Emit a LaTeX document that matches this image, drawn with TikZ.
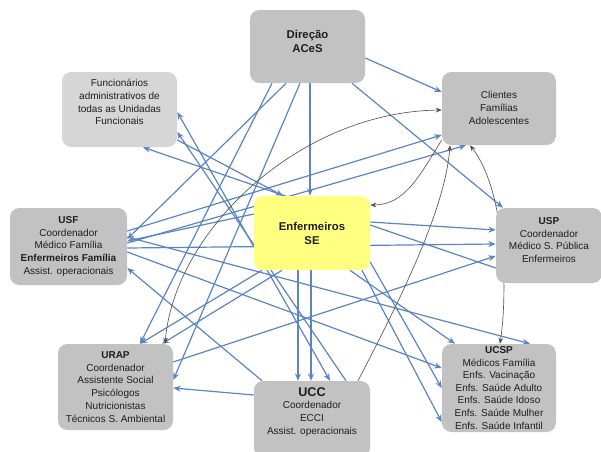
\documentclass[tikz,border=0pt]{standalone}
\usepackage{fontspec}
\setmainfont{Liberation Sans}
\usetikzlibrary{arrows.meta,calc}
\definecolor{linkblue}{HTML}{5B84C4}
\definecolor{boxgray}{HTML}{C2C2C2}
\definecolor{boxlight}{HTML}{D6D6D6}
\definecolor{hubyellow}{HTML}{FFFF80}
\definecolor{inkgray}{HTML}{1E1E1E}
\pgfdeclarelayer{back}
\pgfsetlayers{back,main}
\tikzset{
  unitbox/.style 2 args={rounded corners=7pt, fill=boxgray, draw=none,
    minimum width=#1*0.75pt, minimum height=#2*0.75pt, inner sep=0pt},
  caption/.style={align=center, text=inkgray, font=\fontsize{7.5}{9.6}\selectfont, inner sep=0pt},
  link/.style={draw=linkblue, line width=0.9pt, -{Stealth[length=5.5pt,width=4.5pt]}},
  twoway/.style={link, {Stealth[length=5.5pt,width=4.5pt]}-{Stealth[length=5.5pt,width=4.5pt]}},
  fine/.style={draw=black!65, line width=0.5pt, -{Stealth[length=4.5pt,width=3.6pt,fill=black]}},
  finetwo/.style={fine, {Stealth[length=4.5pt,width=3.6pt,fill=black]}-{Stealth[length=4.5pt,width=3.6pt,fill=black]}}
}
\begin{document}
\begin{tikzpicture}[x=0.75pt,y=-0.75pt]
\useasboundingbox (0,0) rectangle (601,451);
\clip (0,0) rectangle (601,451);

% boxes
\node[unitbox={115}{73}] (dir) at (307.5,46.5) {};
\node[unitbox={115}{75}, fill=boxlight] (fun) at (119.5,109.5) {};
\node[unitbox={114}{73}] (cli) at (499,108.5) {};
\node[unitbox={117}{77}, caption] (usf) at (68.5,246.5)
  {\textbf{USF}\\Coordenador\\Médico Família\\\textbf{Enfermeiros Família}\\Assist. operacionais};
\node[unitbox={116}{74}, fill=hubyellow, caption, font=\fontsize{8.5}{10.5}\selectfont\bfseries] (enf) at (312,233)
  {Enfermeiros\\SE};
\node[unitbox={106}{75}] (usp) at (549,245.5) {};
\node[unitbox={115}{86}, caption] (urap) at (115.5,387)
  {\textbf{URAP}\\Coordenador\\Assistente Social\\Psicólogos\\Nutricionistas\\Técnicos S. Ambiental};
\node[unitbox={116}{76}] (ucc) at (312,419) {};
\node[unitbox={114}{88}, caption, font=\fontsize{7.5}{9.4}\selectfont] (ucsp) at (499,388)
  {\textbf{UCSP}\\Médicos Família\\Enfs. Vacinação\\Enfs. Saúde Adulto\\Enfs. Saúde Idoso\\Enfs. Saúde Mulher\\Enfs. Saúde Infantil};

% texts placed off-centre inside their boxes
\node[caption, font=\fontsize{8.5}{10.5}\selectfont\bfseries] (dirtext) at (307.5,41) {Direção\\ACeS};
\node[caption] (funtext) at (119.5,102) {Funcionários\\administrativos de\\todas as Unidadas\\Funcionais};
\node[caption] (clitext) at (499,108) {Clientes\\Famílias\\Adolescentes};
\node[caption] (usptext) at (549,240) {\textbf{USP}\\Coordenador\\Médico S. Pública\\Enfermeiros};
\node[caption] (ucctext) at (312,412) {{\fontsize{9.5}{11}\selectfont\textbf{UCC}}\\Coordenador\\ECCI\\Assist. operacionais};

\begin{pgfonlayer}{back}
% from the directorate
\draw[link] (dir.south -| 310,0) -- (enf.north -| 310,0);
\draw[link] (dir.east |- 0,58) -- (cli.west |- 0,92);
\draw[link] (dir.south -| 352,0) -- (usp.north -| 503,0);
\draw[link] (dir.south -| 286,0) -- (usf.east |- 0,239);
\draw[link] (dir.south -| 300,0) -- (urap.east |- 0,380);
\draw[link] (dir.south -| 272,0) -- (urap.north -| 140,0);

% from the hub and between units
\draw[link] (enf.west |- 0,214) -- (usf.east |- 0,241);
\draw[link] (usf.east |- 0,231) -- (cli.west |- 0,135);
\draw[link] (usf.east |- 0,243) -- (cli.south -| 466,0);
\draw[twoway] (ucc.north -| 330,0) -- (fun.east |- 0,112);
\draw[link] (ucc.north -| 346,0) -- (fun.east |- 0,132);
\draw[link] (usp.west |- 0,268) -- (fun.south -| 143,0);
\draw[link] (fun.east |- 0,140) -- (enf.north -| 283,0);
\draw[link] (enf.south -| 262,0) -- (urap.north -| 140,0);
\draw[link] (enf.south -| 282,0) -- (urap.north -| 162,0);
\draw[link] (enf.south -| 298,0) -- (ucc.north -| 298,0);
\draw[link] (enf.south -| 311,0) -- (ucc.north -| 311,0);
\draw[link] (enf.south -| 350,0) -- (ucsp.north -| 455,0);
\draw[link] (enf.east |- 0,222) -- (usp.west |- 0,230);
\draw[link] (usf.east |- 0,248) -- (usp.west |- 0,244);
\draw[link] (usf.east |- 0,252) -- (ucsp.west |- 0,368);
\draw[link] (enf.east |- 0,262) -- (ucsp.west |- 0,388);
\draw[link] (enf.south -| 362,0) -- (ucsp.west |- 0,422);
\draw[link] (usf.east |- 0,237) -- (ucsp.north -| 530,0);
\draw[link] (ucc.west |- 0,395) -- (urap.east |- 0,388);
\draw[link] (urap.east |- 0,362) -- (usp.west |- 0,256);
\draw[link] (ucc.north -| 262,0) -- (usf.east |- 0,268);

% thin curved links
\draw[finetwo] (urap.north -| 165,0) .. controls (175,230) and (300,112) .. (cli.west |- 0,110);
\draw[fine] (cli.west |- 0,140) .. controls (420,175) and (405,205) .. (enf.east |- 0,205);
\draw[fine] (ucc.north -| 358,0) .. controls (400,300) and (445,210) .. (cli.south -| 450,0);
\draw[finetwo] (cli.south -| 470,0) .. controls (505,190) and (508,290) .. (ucsp.north -| 500,0);
\end{pgfonlayer}
\end{tikzpicture}
\end{document}
